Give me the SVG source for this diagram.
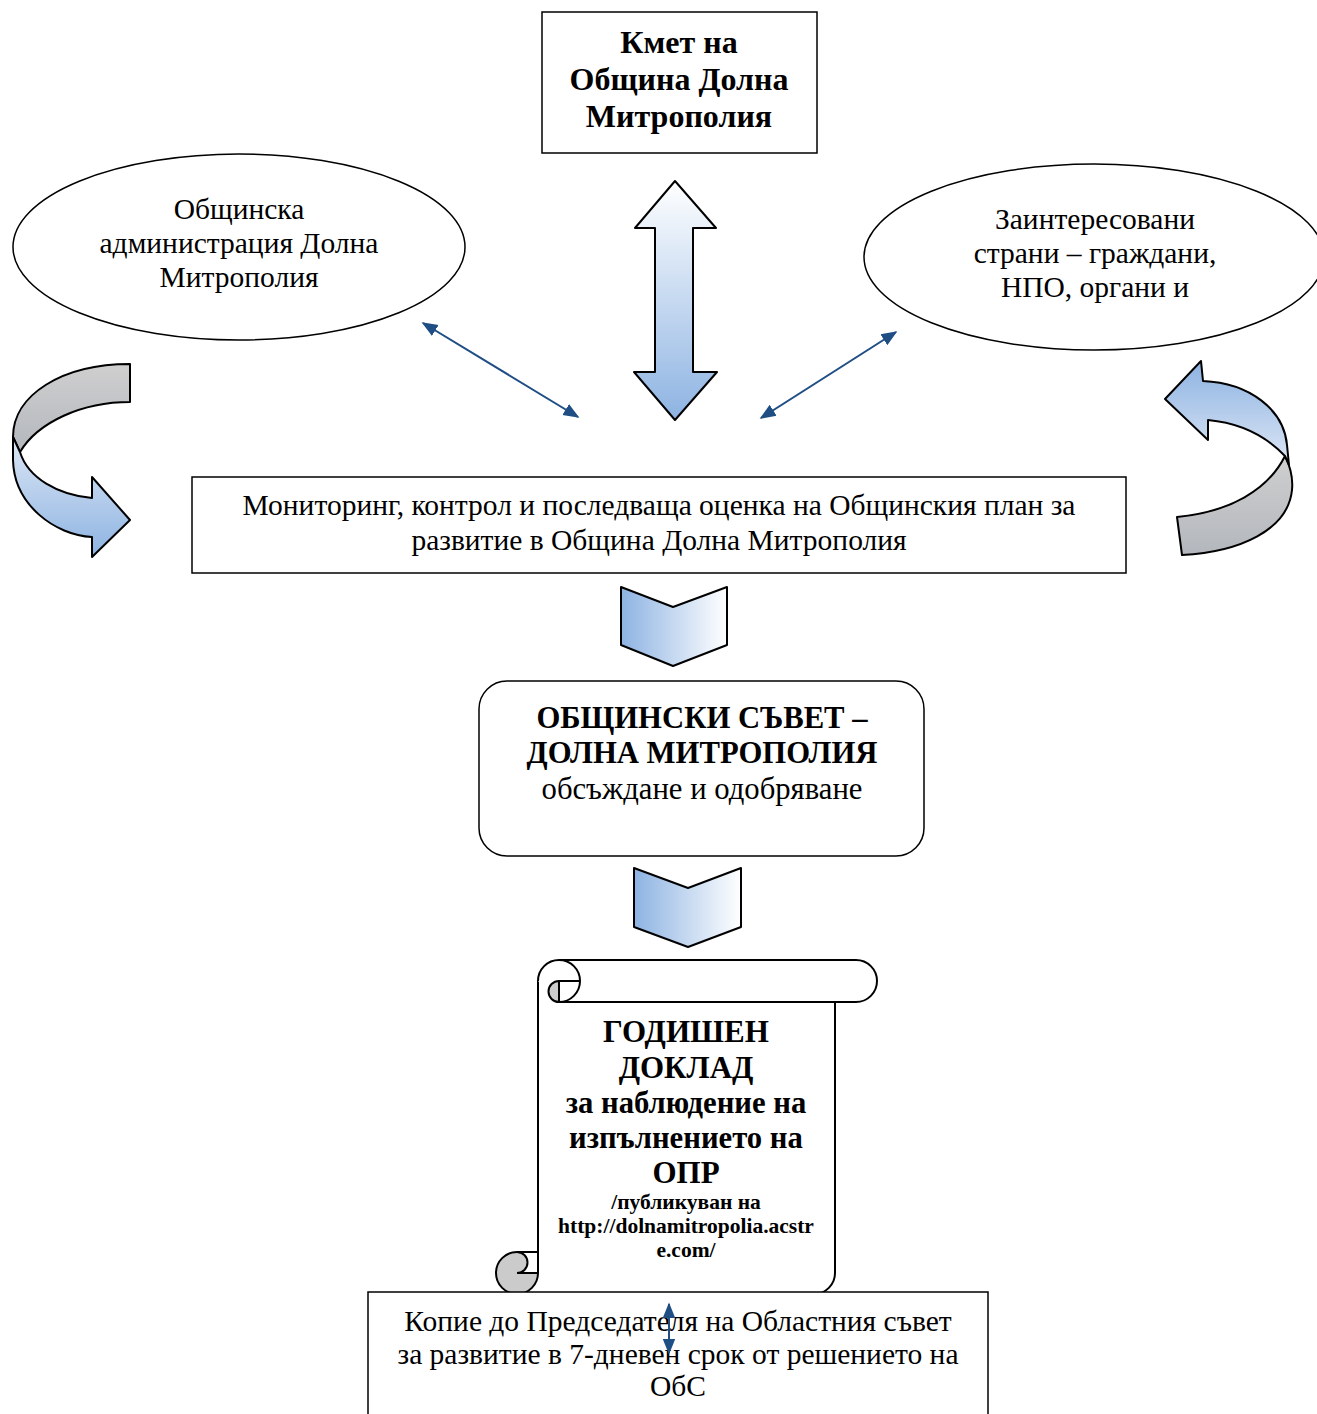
<svg xmlns="http://www.w3.org/2000/svg" width="1317" height="1414" viewBox="0 0 1317 1414">
<defs>
<linearGradient id="gV" x1="0" y1="0" x2="0" y2="1"><stop offset="0" stop-color="#ffffff"/><stop offset="1" stop-color="#8db3e2"/></linearGradient>
<linearGradient id="gH" x1="0" y1="0" x2="1" y2="0"><stop offset="0" stop-color="#8db3e2"/><stop offset="1" stop-color="#ffffff"/></linearGradient>
<linearGradient id="gGrey" x1="0" y1="0" x2="0" y2="1"><stop offset="0" stop-color="#cfcfcf"/><stop offset="1" stop-color="#b3b7bd"/></linearGradient>
<linearGradient id="gBlueDown" x1="0" y1="0" x2="0" y2="1"><stop offset="0" stop-color="#dde7f5"/><stop offset="1" stop-color="#8db3e2"/></linearGradient>
<linearGradient id="gBlueUp" x1="0" y1="0" x2="0" y2="1"><stop offset="0" stop-color="#8db3e2"/><stop offset="1" stop-color="#dde7f5"/></linearGradient>
<marker id="ah" viewBox="0 0 10 10" refX="9" refY="5" markerWidth="8" markerHeight="8" orient="auto-start-reverse" markerUnits="strokeWidth"><path d="M0,1 L10,5 L0,9 Z" fill="#1f4e85"/></marker>
</defs>
<style>
.box{fill:#fff;stroke:#000;stroke-width:1.5}
.shape{stroke:#000;stroke-width:2;stroke-linejoin:round}
.t{font-family:"Liberation Serif","Times New Roman",serif;font-size:29.5px;fill:#000;text-anchor:middle}
.b{font-weight:bold}
.h32{font-size:32px}
.h31{font-size:31px}
.h30{font-size:30.7px}
.s{font-size:21.5px}
.conn{stroke:#1f4e85;stroke-width:2;fill:none}
</style>

<g id="connectors">
<line class="conn" x1="423" y1="323" x2="578" y2="417" marker-start="url(#ah)" marker-end="url(#ah)"/>
<line class="conn" x1="896" y1="332" x2="761" y2="418" marker-start="url(#ah)" marker-end="url(#ah)"/>
</g>

<g id="mayor">
<rect class="box" x="542" y="12" width="275" height="141"/>
<text class="t b h32" x="679" y="53">Кмет на</text>
<text class="t b h32" x="679" y="90">Община Долна</text>
<text class="t b h32" x="679" y="127">Митрополия</text>
</g>

<g id="admin">
<ellipse class="box" cx="239" cy="247" rx="226" ry="93"/>
<text class="t" x="239" y="219">Общинска</text>
<text class="t" x="239" y="253">администрация Долна</text>
<text class="t" x="239" y="287">Митрополия</text>
</g>

<g id="stakeholders">
<ellipse class="box" cx="1094" cy="257" rx="230" ry="93"/>
<text class="t" x="1095" y="229">Заинтересовани</text>
<text class="t" x="1095" y="263">страни – граждани,</text>
<text class="t" x="1095" y="297">НПО, органи и</text>
</g>

<g id="double-arrow">
<path class="shape" d="M675,181 L716,228 L693,228 L693,372 L717,372 L675,420 L634,372 L655,372 L655,228 L635,228 Z" fill="url(#gV)"/>
</g>

<g id="left-curved-arrow">
<path class="shape" d="M130,364 C62,364 13,395 13,437 L20,452 C38,422 82,402 130,402 Z" fill="url(#gGrey)"/>
<path class="shape" d="M13,437 L13,460 C14,505 55,535 92,537 L92,557 L130,520 L92,477 L92,498 C58,495 28,478 20,452 Z" fill="url(#gBlueDown)"/>
</g>

<g id="right-curved-arrow">
<path class="shape" d="M1285,456 C1291,468 1293,480 1292,490 C1288,530 1240,552 1182,555 L1177,517 C1230,512 1268,490 1285,456 Z" fill="url(#gGrey)"/>
<path class="shape" d="M1165,399 L1201,361 L1203,381 C1250,383 1284,410 1287,445 L1289,465 L1285,456 C1265,435 1240,423 1208,420 L1208,440 Z" fill="url(#gBlueUp)"/>
</g>

<g id="monitoring">
<rect class="box" x="192" y="477" width="934" height="96"/>
<text class="t" x="659" y="515">Мониторинг, контрол и последваща оценка на Общинския план за</text>
<text class="t" x="659" y="550">развитие в Община Долна Митрополия</text>
</g>

<g id="chevron-1">
<path class="shape" d="M621,587 L673,607 L727,587 L727,645 L673,666 L621,645 Z" fill="url(#gH)"/>
</g>

<g id="council">
<rect class="box" x="479" y="681" width="445" height="175" rx="28" ry="28"/>
<text class="t b h30" x="702" y="728">ОБЩИНСКИ СЪВЕТ –</text>
<text class="t b h30" x="702" y="763">ДОЛНА МИТРОПОЛИЯ</text>
<text class="t h30" x="702" y="799">обсъждане и одобряване</text>
</g>

<g id="chevron-2">
<path class="shape" d="M634,868 L688,888 L741,868 L741,927 L688,947 L634,927 Z" fill="url(#gH)"/>
</g>

<g id="report">
<path d="M538,981 L835,981 L835,1294 L538,1294 Z" fill="#fff"/>
<path d="M538,981 L538,1273 M835,1002 L835,1273 A21,21 0 0 1 814,1294 L517,1294" fill="none" stroke="#000" stroke-width="2"/>
<path d="M538,981 A21,21 0 0 1 559,960 L856,960 A21,21 0 0 1 856,1002 L559,1002" fill="#fff" stroke="#000" stroke-width="2"/>
<path d="M559,960 A21,21 0 0 1 559,1002" fill="none" stroke="#000" stroke-width="2"/>
<path d="M559,981 A10.5,10.5 0 0 0 559,1002 Z" fill="#cbcbcb" stroke="#000" stroke-width="2"/>
<path d="M559,981 L580,981" stroke="#000" stroke-width="2"/>
<circle cx="517" cy="1273" r="21" fill="#cbcbcb" stroke="#000" stroke-width="2"/>
<path d="M538,1252 L517,1252 A10.5,10.5 0 0 1 517,1273 L538,1273 Z" fill="#fff" stroke="#000" stroke-width="2"/>
<text class="t b h31" x="686" y="1042">ГОДИШЕН</text>
<text class="t b h31" x="686" y="1078">ДОКЛАД</text>
<text class="t b h30" x="686" y="1113">за наблюдение на</text>
<text class="t b h30" x="686" y="1148">изпълнението на</text>
<text class="t b h31" x="686" y="1183">ОПР</text>
<text class="t b s" x="686" y="1209">/публикуван на</text>
<text class="t b s" x="686" y="1233">http://dolnamitropolia.acstr</text>
<text class="t b s" x="686" y="1257">e.com/</text>
</g>

<g id="copy">
<rect class="box" x="368" y="1292" width="620" height="140"/>
<text class="t" x="678" y="1331">Копие до Председателя на Областния съвет</text>
<text class="t" x="678" y="1364">за развитие в 7-дневен срок от решението на</text>
<text class="t" x="678" y="1396">ОбС</text>
</g>

<g id="connector-small">
<line class="conn" x1="669" y1="1304" x2="669" y2="1353" marker-start="url(#ah)" marker-end="url(#ah)"/>
</g>
</svg>
